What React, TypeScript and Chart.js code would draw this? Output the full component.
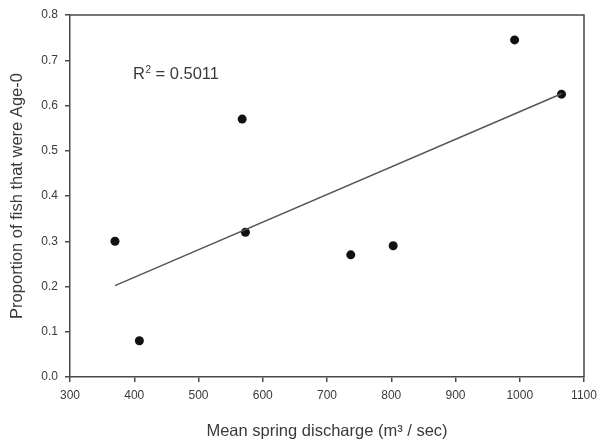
import React, { useEffect, useRef } from "react";
import { Chart, registerables } from "chart.js";

Chart.register(...registerables);

const discharge = [370, 408, 568, 573, 737, 803, 992, 1065];
const proportionAge0 = [0.3, 0.08, 0.57, 0.32, 0.27, 0.29, 0.745, 0.625];
const trendX = [370, 1065];
const trendY = [0.202, 0.626];
const annotationBase = "R";
const annotationSup = "2";
const annotationRest = " = 0.5011";
const annotationAt = { x: 398, y: 0.6586 };
const xTitle = "Mean spring discharge (m³ / sec)";
const yTitle = "Proportion of fish that were Age-0";

const FONT = "'Liberation Sans', Arial, sans-serif";
const TEXT = "#3a3a3a";
const AXIS = "#4a4a4a";

const frame = {
  id: "frame",
  afterDatasetsDraw(chart: any) {
    const { ctx, chartArea, scales } = chart;
    ctx.save();
    ctx.strokeStyle = AXIS;
    ctx.lineWidth = 1.5;
    ctx.beginPath();
    ctx.moveTo(chartArea.left, chartArea.top);
    ctx.lineTo(chartArea.right, chartArea.top);
    ctx.lineTo(chartArea.right, chartArea.bottom);
    ctx.stroke();
    ctx.fillStyle = TEXT;
    ctx.textBaseline = "alphabetic";
    ctx.textAlign = "left";
    let px = scales.x.getPixelForValue(annotationAt.x);
    const py = scales.y.getPixelForValue(annotationAt.y);
    ctx.font = `16.5px ${FONT}`;
    ctx.fillText(annotationBase, px, py);
    px += ctx.measureText(annotationBase).width + 0.5;
    ctx.font = `10px ${FONT}`;
    ctx.fillText(annotationSup, px, py - 6);
    px += ctx.measureText(annotationSup).width;
    ctx.font = `16.5px ${FONT}`;
    ctx.fillText(annotationRest, px, py);
    ctx.restore();
  },
};

export default function App() {
  const ref = useRef<HTMLCanvasElement>(null);
  useEffect(() => {
    if (!ref.current) return;
    const chart = new Chart(ref.current, {
      type: "scatter",
      data: {
        datasets: [
          {
            type: "line",
            data: trendX.map((x, i) => ({ x, y: trendY[i] })),
            borderColor: "#555555",
            borderWidth: 1.5,
            pointRadius: 0,
            fill: false,
          } as any,
          {
            data: discharge.map((x, i) => ({ x, y: proportionAge0[i] })),
            backgroundColor: "#111111",
            borderColor: "#111111",
            pointRadius: 4.5,
            pointBorderWidth: 0,
          },
        ],
      },
      options: {
        responsive: false,
        animation: false,
        layout: { padding: { left: 0, right: 16, top: 15, bottom: 0 } },
        plugins: { legend: { display: false }, tooltip: { enabled: false } },
        scales: {
          x: {
            type: "linear",
            min: 300,
            max: 1100,
            ticks: {
              stepSize: 100,
              color: TEXT,
              font: { family: FONT, size: 12 },
              padding: 6,
              maxRotation: 0,
              callback: (v: any) => String(v),
            },
            grid: {
              drawOnChartArea: false,
              drawTicks: true,
              tickLength: 5,
              color: AXIS,
              lineWidth: 1.5,
            },
            border: { color: AXIS, width: 1.5 },
            title: {
              display: true,
              text: xTitle,
              color: TEXT,
              font: { family: FONT, size: 16.5 },
              padding: { top: 0, bottom: 0 },
            },
            afterFit: (s: any) => {
              s.height = 64;
              s.paddingLeft = 0;
              s.paddingRight = 0;
            },
          },
          y: {
            type: "linear",
            min: 0,
            max: 0.8,
            ticks: {
              stepSize: 0.1,
              color: TEXT,
              font: { family: FONT, size: 12 },
              padding: 7,
              callback: (v: any) => Number(v).toFixed(1),
            },
            grid: {
              drawOnChartArea: false,
              drawTicks: true,
              tickLength: 5,
              color: AXIS,
              lineWidth: 1.5,
            },
            border: { color: AXIS, width: 1.5 },
            title: {
              display: true,
              text: yTitle,
              color: TEXT,
              font: { family: FONT, size: 16.5 },
              padding: { top: 8, bottom: 0 },
            },
            afterFit: (s: any) => {
              s.width = 70;
              s.paddingTop = 0;
              s.paddingBottom = 0;
            },
          },
        },
      },
      plugins: [frame],
    });
    return () => chart.destroy();
  }, []);
  return (
    <div style={{ position: "absolute", left: 0, top: 0, width: 600, height: 441, background: "#fff" }}>
      <canvas ref={ref} width={600} height={441} style={{ display: "block" }} />
    </div>
  );
}
